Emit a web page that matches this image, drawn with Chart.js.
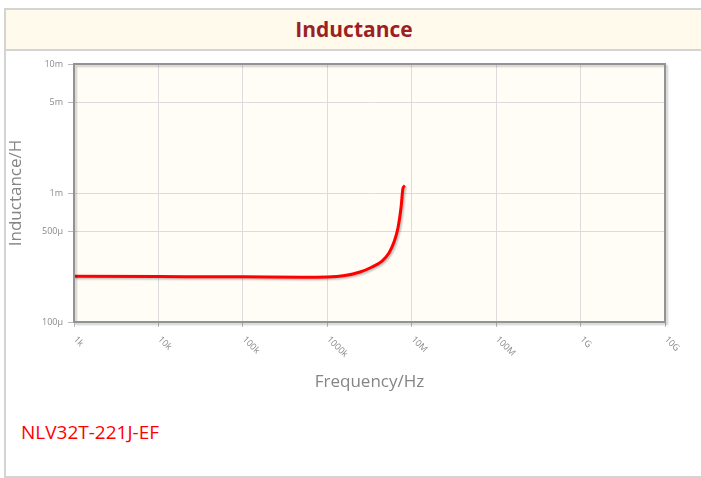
<!DOCTYPE html>
<html><head><meta charset="utf-8">
<script src="https://cdn.jsdelivr.net/npm/chart.js@4/dist/chart.umd.min.js"></script>
<style>
html,body{margin:0;padding:0;background:#fff;}
#wrap{position:relative;width:701px;height:478px;overflow:hidden;}
#frame{position:absolute;left:4px;top:8px;width:720px;height:466px;border:2px solid #d4d4d4;box-sizing:content-box;}
#band{position:absolute;left:6px;top:10px;width:700px;height:39px;background:#fffaec;border-bottom:2px solid #d4d4d4;}
#title{position:absolute;left:6px;top:10px;width:696px;height:39px;line-height:39px;text-align:center;font-family:"Open Sans",sans-serif;font-weight:bold;font-size:21px;color:#9c1f26;}
#part{position:absolute;left:21px;top:419px;font-family:"Open Sans",sans-serif;font-size:19px;color:#ff0000;}
canvas{position:absolute;left:0;top:0;}
</style></head>
<body><div id="wrap">
<div id="frame"></div><div id="band"></div><div id="title">Inductance</div>
<div id="part">NLV32T-221J-EF</div>
<canvas id="c" width="701" height="478"></canvas>
</div>
<script>
const frequencies = [1e3, 1e4, 1e5, 5e5, 1e6, 1.62e6, 2.44e6, 3.39e6, 4.45e6, 5.38e6, 6.17e6, 6.87e6, 7.46e6, 7.89e6, 8.3e6];
const inductance  = [2.26e-4, 2.25e-4, 2.24e-4, 2.22e-4, 2.23e-4, 2.29e-4, 2.44e-4, 2.67e-4, 2.97e-4, 3.43e-4, 4.17e-4, 5.35e-4, 7.65e-4, 1.09e-3, 1.14e-3];
const xTicks = [1e3, 1e4, 1e5, 1e6, 1e7, 1e8, 1e9, 1e10];
const xTickLabels = ["1k", "10k", "100k", "1000k", "10M", "100M", "1G", "10G"];
const yTicks = [1e-4, 5e-4, 1e-3, 5e-3, 1e-2];
const yTickLabels = ["100\u00b5", "500\u00b5", "1m", "5m", "10m"];

const points = frequencies.map((f, i) => ({x: f, y: inductance[i]}));

const decor = {
  id: 'decor',
  beforeDraw(chart) {
    const {ctx, chartArea: a} = chart;
    ctx.save();
    ctx.fillStyle = '#fffdf5';
    ctx.fillRect(a.left, a.top, a.right - a.left, a.bottom - a.top);
    ctx.restore();
  },
  beforeDatasetsDraw(chart) {
    const ctx = chart.ctx;
    ctx.save();
    ctx.shadowColor = 'rgba(0,0,0,0.25)';
    ctx.shadowOffsetX = 1.5;
    ctx.shadowOffsetY = 1.5;
    ctx.shadowBlur = 2;
  },
  afterDatasetsDraw(chart) {
    chart.ctx.restore();
  },
  afterDraw(chart) {
    const {ctx, chartArea: a, scales} = chart;
    ctx.save();
    ctx.shadowColor = 'rgba(0,0,0,0.2)';
    ctx.shadowOffsetX = 2; ctx.shadowOffsetY = 2; ctx.shadowBlur = 2;
    ctx.strokeStyle = '#939393';
    ctx.lineWidth = 2;
    ctx.strokeRect(a.left, a.top, a.right - a.left, a.bottom - a.top);
    ctx.restore();
    ctx.save();
    ctx.fillStyle = '#8a8a8a';
    ctx.font = '9px "Open Sans", sans-serif';
    ctx.textAlign = 'left';
    ctx.textBaseline = 'middle';
    xTicks.forEach((v, i) => {
      const px = scales.x.getPixelForValue(v);
      ctx.save();
      ctx.translate(px + 1, a.bottom + 16);
      ctx.rotate(Math.PI / 4);
      ctx.fillText(xTickLabels[i], 0, 0);
      ctx.restore();
    });
    ctx.fillStyle = '#858585';
    ctx.font = '17px "Open Sans", sans-serif';
    ctx.textAlign = 'center';
    ctx.textBaseline = 'middle';
    ctx.fillText('Frequency/Hz', (a.left + a.right) / 2, 382);
    ctx.save();
    ctx.translate(16, (a.top + a.bottom) / 2);
    ctx.rotate(-Math.PI / 2);
    ctx.fillText('Inductance/H', 0, 0);
    ctx.restore();
    ctx.restore();
  }
};

new Chart(document.getElementById('c'), {
  type: 'scatter',
  data: {datasets: [{
    data: points,
    showLine: true,
    borderColor: '#ff0000',
    borderWidth: 3,
    pointRadius: 0,
    cubicInterpolationMode: 'monotone',
    fill: false
  }]},
  options: {
    responsive: false,
    animation: false,
    events: [],
    layout: {padding: {left: 0, top: 64, right: 36, bottom: 0}},
    plugins: {legend: {display: false}, tooltip: {enabled: false}},
    scales: {
      x: {
        type: 'logarithmic', min: 1e3, max: 1e10,
        afterBuildTicks(s) { s.ticks = xTicks.map(v => ({value: v})); },
        afterFit(s) { s.height = 156; },
        grid: {color: '#dcdcdc', lineWidth: 1, tickLength: 5, drawTicks: true, tickColor: '#bbbbbb'},
        border: {display: false},
        ticks: {display: false}
      },
      y: {
        type: 'logarithmic', min: 1e-4, max: 1e-2,
        afterBuildTicks(s) { s.ticks = yTicks.map(v => ({value: v})); },
        afterFit(s) { s.width = 74; },
        grid: {color: '#dcdcdc', lineWidth: 1, tickLength: 6, drawTicks: true, tickColor: '#bbbbbb'},
        border: {display: false},
        ticks: {
          color: '#8a8a8a', font: {family: 'Open Sans', size: 9}, padding: 5,
          callback: (v) => { const i = yTicks.indexOf(v); return i >= 0 ? yTickLabels[i] : ''; }
        }
      }
    }
  },
  plugins: [decor]
});
</script>
</body></html>
